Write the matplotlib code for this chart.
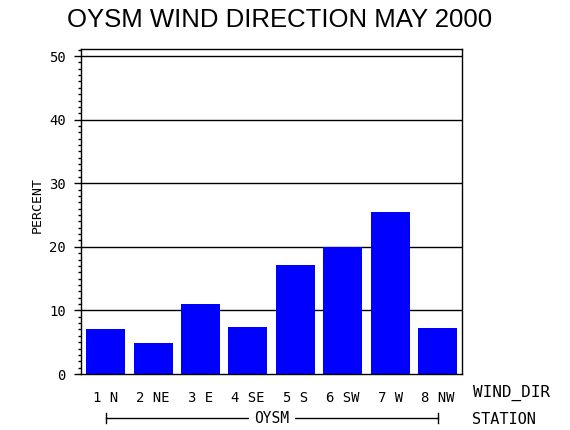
import matplotlib
matplotlib.use('Agg')
import matplotlib.pyplot as plt
from matplotlib.ticker import MultipleLocator
import matplotlib.transforms as mtransforms

# data
directions = ['1 N', '2 NE', '3 E', '4 SE', '5 S', '6 SW', '7 W', '8 NW']
percent = [7.1, 4.9, 11.0, 7.4, 17.2, 20.0, 25.4, 7.2]
station = 'OYSM'
title = 'OYSM WIND DIRECTION MAY 2000'

mono = 'DejaVu Sans Mono'

fig = plt.figure(figsize=(5.7, 4.3), dpi=100)
ax = fig.add_axes([0.1421, 0.1302, 0.668, 0.7558])

x = list(range(len(directions)))
ax.bar(x, percent, width=0.82, color='#0000ff', zorder=2)

ax.set_xlim(-0.52, 7.51)
ax.set_ylim(0, 51.1)

# black horizontal grid at major ticks
for yv in range(10, 51, 10):
    ax.axhline(yv, color='black', lw=1.0, zorder=1)

ax.yaxis.set_major_locator(MultipleLocator(10))
ax.yaxis.set_minor_locator(MultipleLocator(1))
ax.tick_params(axis='y', which='major', direction='out', length=5, width=1,
               pad=6, labelsize=10, labelfontfamily=mono)
ax.tick_params(axis='y', which='minor', direction='out', length=2.5, width=1)
ax.set_xticks(x)
ax.set_xticklabels(directions, fontfamily=mono, fontsize=10)
ax.tick_params(axis='x', length=0, pad=12)

for s in ax.spines.values():
    s.set_linewidth(1.0)
    s.set_color('black')

ax.set_ylabel('PERCENT', fontfamily=mono, fontsize=9.5)
ax.yaxis.set_label_coords(-0.098, 0.52)

# right-hand labels for rows
ax.text(1.03, -0.058, 'WIND_DIR', transform=ax.transAxes, fontfamily=mono,
        fontsize=11.5, ha='left', va='center')
ax.text(1.027, -0.14, 'STATION', transform=ax.transAxes, fontfamily=mono,
        fontsize=11, ha='left', va='center')

# station bracket spanning all bars
trans = mtransforms.blended_transform_factory(ax.transData, ax.transAxes)
yb = -0.136
ax.plot([x[0], x[-1]], [yb, yb], color='black', lw=1, transform=trans, clip_on=False)
for xe in (x[0], x[-1]):
    ax.plot([xe, xe], [yb - 0.016, yb + 0.016], color='black', lw=1,
            transform=trans, clip_on=False)
ax.text((x[0] + x[-1]) / 2, yb, station, transform=trans, fontfamily=mono,
        fontsize=10.5, ha='center', va='center',
        bbox=dict(facecolor='white', edgecolor='none', pad=4))

fig.text(0.491, 0.953, title, fontfamily='Liberation Sans', fontsize=18.5,
         ha='center', va='center')

fig.savefig('out.png', dpi=100)
